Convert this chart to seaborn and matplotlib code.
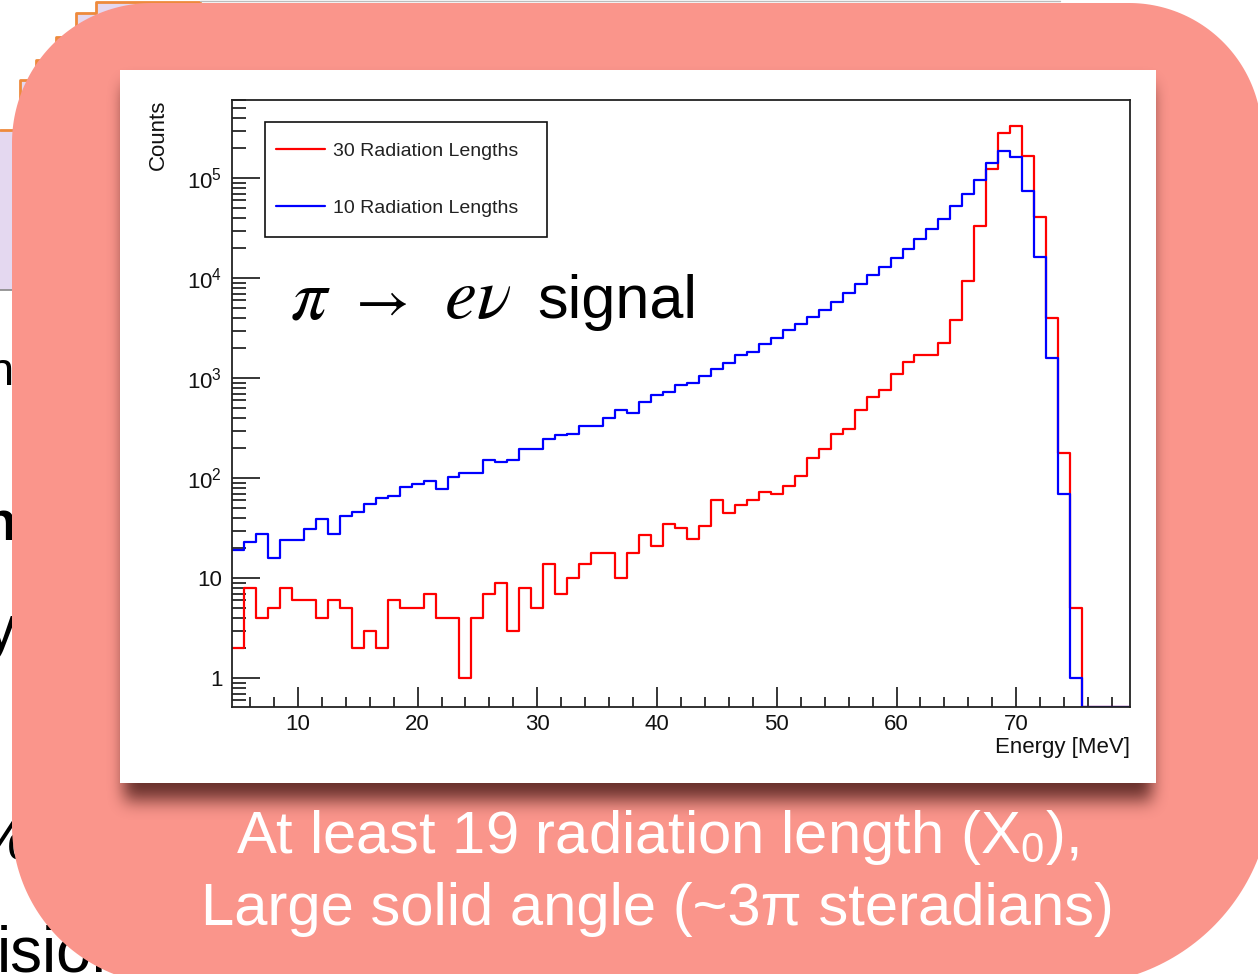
import numpy as np
import matplotlib
matplotlib.use("Agg")
import matplotlib.pyplot as plt
import seaborn as sns
from matplotlib.patches import Rectangle, Polygon
from matplotlib.ticker import FixedLocator, MultipleLocator, LogLocator, NullFormatter

# ---------------- data ----------------
energy_mev = np.arange(5, 80)  # bin centres, 1 MeV bins
counts_30x0 = [2, 8, 4, 5, 8, 6, 6, 4, 6, 5,
               2, 3, 2, 6, 5, 5, 7, 4, 4, 1,
               4, 7, 9, 3, 8, 5, 14, 7, 10, 14,
               18, 18, 10, 18, 27, 21, 35, 32, 25, 33,
               61, 45, 54, 61, 73, 69, 84, 105, 158, 198,
               280, 309, 482, 656, 758, 1096, 1440, 1700, 1700, 2280,
               3870, 9360, 33500, 125000, 284000, 332000, 169000, 40900, 4050, 178,
               5, 0, 0, 0, 0]
counts_10x0 = [19, 23, 28, 16, 24, 24, 31, 39, 28, 42,
               46, 55, 63, 66, 81, 88, 95, 78, 103, 114,
               114, 152, 144, 152, 198, 198, 250, 269, 277, 333,
               333, 404, 482, 447, 580, 681, 729, 851, 900, 1055,
               1230, 1413, 1698, 1848, 2222, 2552, 3020, 3467, 4138, 4823,
               5848, 7080, 8770, 10700, 13100, 15800, 19700, 25000, 31100, 39100,
               52800, 69300, 97100, 143600, 188600, 164800, 74600, 16400, 1585, 69,
               1, 0, 0, 0, 0]
series_labels = ["30 Radiation Lengths", "10 Radiation Lengths"]
x_tick_values = [10, 20, 30, 40, 50, 60, 70]
y_tick_values = [1, 10, 100, 1000, 10000, 100000]
y_tick_labels = ["1", "10", r"$\mathregular{10^{2}}$", r"$\mathregular{10^{3}}$",
                 r"$\mathregular{10^{4}}$", r"$\mathregular{10^{5}}$"]
caption_lines = ["At least 19 radiation length (X$_{0}$),",
                 "Large solid angle (~3π steradians)"]

# ---------------- style ----------------
sns.set_style("white")
plt.rcParams["font.family"] = ["Liberation Sans", "DejaVu Sans"]
plt.rcParams["mathtext.fontset"] = "custom"
plt.rcParams["mathtext.rm"] = "Liberation Sans"
plt.rcParams["mathtext.it"] = "Liberation Sans:italic"
plt.rcParams["mathtext.bf"] = "Liberation Sans:bold"

W, H = 1258, 974
fig = plt.figure(figsize=(W / 100, H / 100), dpi=100)

# background / slide layer in pixel coordinates
bg = fig.add_axes([0, 0, 1, 1])
bg.set_xlim(0, W)
bg.set_ylim(H, 0)
bg.axis("off")
bg.set_zorder(0)

# partial slide content behind the box (top-left histogram)
steps_x = [0, 20, 36, 56, 76, 96]
steps_y = [130, 80, 60, 37, 13, 2]
px, py = [], []
for i, (sx, sy) in enumerate(zip(steps_x, steps_y)):
    nx = steps_x[i + 1] if i + 1 < len(steps_x) else 200
    px += [sx, nx]
    py += [sy, sy]
bg.add_patch(Polygon(list(zip(px, py)) + [(200, 290), (0, 290)], closed=True,
                     facecolor="#E4D8F0", edgecolor="none", zorder=1))
bg.plot(px, py, color="#EE8A3C", lw=2.0, zorder=2)
bg.plot([0, 60], [290, 290], color="#888888", lw=1.2, zorder=2)
bg.plot([200, 1060], [1, 1], color="#BBBBBB", lw=1.0, zorder=2)

# clipped text fragments from the slide behind
bg.text(-12, 385, "n", fontsize=34, color="black", zorder=2)
bg.text(-18, 540, "n", fontsize=40, fontweight="bold", color="black", zorder=2)
bg.text(-14, 648, "y", fontsize=44, color="black", zorder=2)
bg.text(-24, 860, "%", fontsize=44, color="black", zorder=2)
bg.text(-3, 972, "ision", fontsize=46, color="black", zorder=2)

# salmon rounded box (corner radii differ slightly, like the slide shape)
def arc(cx, cy, r, a0, a1, n=60):
    t = np.radians(np.linspace(a0, a1, n))
    return list(zip(cx + r * np.cos(t), cy + r * np.sin(t)))

L, T, B = 12, 3, 985
box_pts = (arc(L + 140, T + 140, 140, 180, 270)
           + arc(1262 - 133, T + 133, 133, 270, 360)
           + arc(1272 - 200, B - 200, 200, 0, 90)
           + arc(L + 160, B - 160, 160, 90, 180))
bg.add_patch(Polygon(box_pts, closed=True, facecolor="#FA958B", edgecolor="none", zorder=3))

# drop shadow of the white panel
def blur1d(a, r, axis):
    a = np.moveaxis(a, axis, -1)
    p = np.pad(a, [(0, 0)] * (a.ndim - 1) + [(r + 1, r)], mode="edge")
    c = np.cumsum(p, axis=-1)
    out = (c[..., 2 * r + 1:] - c[..., :-2 * r - 1]) / (2 * r + 1)
    return np.moveaxis(out, -1, axis)

mask = np.zeros((H, W))
mask[86:800, 124:1152] = 1.0
for _ in range(3):
    mask = blur1d(mask, 8, 0)
    mask = blur1d(mask, 7, 1)
rgba = np.zeros((H, W, 4))
rgba[..., 0] = 0.25
rgba[..., 1] = 0.08
rgba[..., 2] = 0.07
rgba[..., 3] = 0.78 * mask
bg.imshow(rgba, extent=(0, W, H, 0), interpolation="bilinear", zorder=4, aspect="auto")
bg.set_xlim(0, W)
bg.set_ylim(H, 0)

# white panel
bg.add_patch(Rectangle((120, 70), 1036, 713, facecolor="white", edgecolor="none", zorder=5))

# caption
bg.text(657, 853, caption_lines[0], fontsize=43, color="white", ha="center",
        va="baseline", zorder=6)
bg.text(657, 925, caption_lines[1], fontsize=43, color="white", ha="center",
        va="baseline", zorder=6)

# ---------------- chart ----------------
ax = fig.add_axes([232 / W, 1 - 707 / H, (1130 - 232) / W, (707 - 100) / H])
ax.set_zorder(5)
ax.set_facecolor("white")
ax.set_yscale("log")

ymin, ymax = 10 ** -0.287, 10 ** 5.783
for counts, color, label in [(counts_30x0, "#FF0000", series_labels[0]),
                             (counts_10x0, "#0000FF", series_labels[1])]:
    c = np.asarray(counts, dtype=float)
    w = np.where(c > 0, c, ymin)  # empty bins sit on the frame bottom (ROOT style)
    sns.histplot(x=energy_mev, weights=w, binwidth=1, binrange=(4.5, 79.5),
                 element="step", fill=False, color=color, linewidth=1.6,
                 label=label, ax=ax)

ax.set_xlim(4.5, 79.5)
ax.set_ylim(ymin, ymax)

ax.xaxis.set_major_locator(FixedLocator(x_tick_values))
ax.set_xticklabels([str(v) for v in x_tick_values])
ax.xaxis.set_minor_locator(MultipleLocator(2))
ax.yaxis.set_major_locator(FixedLocator(y_tick_values))
ax.set_yticklabels(y_tick_labels)
ax.yaxis.set_minor_locator(LogLocator(base=10, subs=np.arange(2, 10), numticks=30))
ax.yaxis.set_minor_formatter(NullFormatter())

ax.tick_params(axis="both", which="both", direction="in", bottom=True, left=True,
               top=False, right=False, color="black", width=1.1, labelcolor="#111111")
ax.tick_params(axis="x", which="major", length=14.4, pad=5, labelsize=16)
ax.tick_params(axis="x", which="minor", length=7.2)
ax.tick_params(axis="y", which="major", length=20, pad=7, labelsize=16)
ax.tick_params(axis="y", which="minor", length=10)
for s in ax.spines.values():
    s.set_color("#222222")
    s.set_linewidth(1.3)

ax.set_xlabel("Energy [MeV]", fontsize=16, loc="right", color="#111111")
ax.xaxis.set_label_coords(1.0, -0.049)
ax.set_ylabel("Counts", fontsize=16, loc="top", color="#111111")
ax.yaxis.set_label_coords(-0.070, 1.0)

# legend
handles, labels = ax.get_legend_handles_labels()
leg = ax.legend(handles, labels, loc="upper left",
                bbox_to_anchor=(276 / W, 1 - 142 / H), bbox_transform=fig.transFigure,
                frameon=False, borderpad=0, borderaxespad=0, fontsize=14,
                handlelength=2.53, handletextpad=0.42, labelspacing=2.05)
for t in leg.get_texts():
    t.set_color("#222222")
ax.add_patch(Rectangle((265, 122), 282, 115, transform=bg.transData, fill=False,
                       edgecolor="#111111", linewidth=1.2, clip_on=False, zorder=10))

# overlay annotation "pi -> e nu signal"
kw = dict(transform=bg.transData, color="black", ha="left", va="baseline", zorder=10,
          math_fontfamily="stix")
ax.text(290, 318, r"$\pi$", fontsize=52, **kw)
ax.text(347, 318, r"$\rightarrow$", fontsize=42, **kw)
ax.text(444, 318, r"$e\nu$", fontsize=52, **kw)
ax.text(537, 318, "signal", fontsize=44, transform=bg.transData, color="black",
        ha="left", va="baseline", zorder=10)

fig.savefig("out.png", dpi=100)
